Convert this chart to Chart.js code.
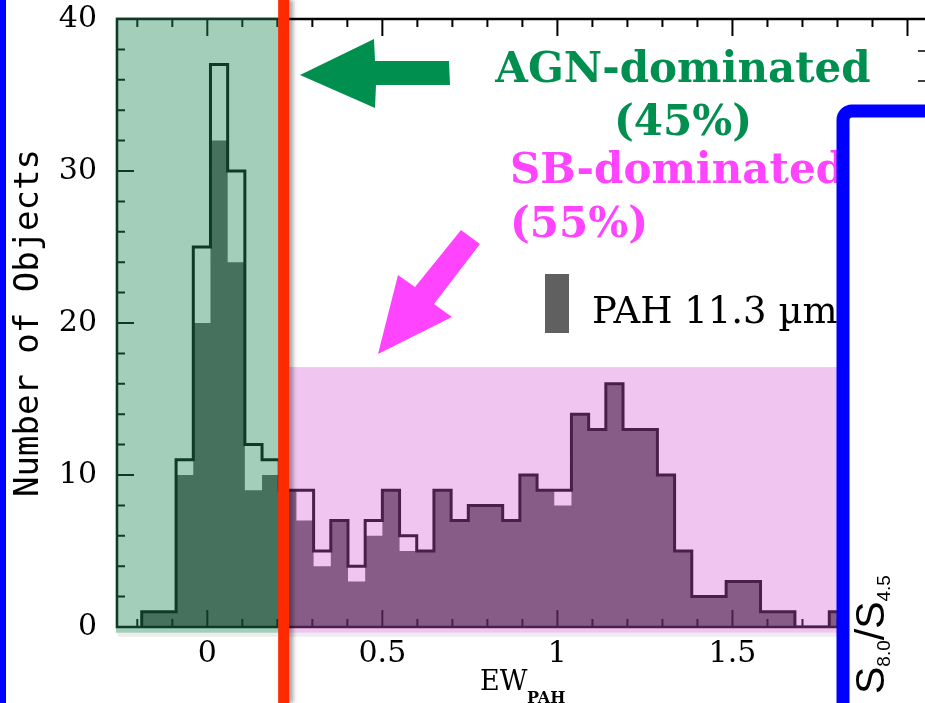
<!DOCTYPE html>
<html>
<head>
<meta charset="utf-8">
<script src="https://cdn.jsdelivr.net/npm/chart.js@4.4.0/dist/chart.umd.min.js"></script>
<style>
html, body { margin: 0; padding: 0; background: #fff; }
#wrap { width: 925px; height: 703px; }
</style>
</head>
<body>
<div id="wrap"><canvas id="histChart" width="925" height="703"></canvas></div>
<script>
"use strict";

// EW(PAH) histogram, equal-width bins starting at binStart
const binStart = -0.1874;
const binWidth = 0.0491;
// whole sample (outline)
const countsAll = [1, 1, 11, 25, 37, 30, 12, 11, 9, 9, 5, 7, 4, 7, 9, 6, 5, 9, 7, 8,
                   8, 7, 10, 9, 9, 14, 13, 16, 13, 13, 10, 5, 2, 2, 3, 3, 1, 1, 0, 0, 1];
// PAH 11.3 um (filled)
const countsPah = [1, 1, 10, 20, 32, 24, 9, 10, 9, 7, 4, 7, 3, 6, 9, 5, 5, 9, 7, 8,
                   8, 7, 10, 9, 8, 14, 13, 16, 13, 13, 10, 5, 2, 2, 3, 3, 1, 1, 0, 0, 1];
const xTicks = [0, 0.5, 1, 1.5, 2];
const yTicks = [0, 10, 20, 30, 40];

// turn bin counts into step points (value holds until the next edge)
function stepPoints(counts) {
    const pts = [{ x: binStart, y: 0 }];
    counts.forEach((c, i) => pts.push({ x: binStart + i * binWidth, y: c }));
    const end = binStart + counts.length * binWidth;
    pts.push({ x: end, y: counts[counts.length - 1] }, { x: end, y: 0 });
    return pts;
}

const serif = '"DejaVu Serif", "Liberation Serif", serif';

// frame with inward ticks on left, bottom and top
const frameTicks = {
    id: 'frameTicks',
    afterDatasetsDraw(chart) {
        const { ctx, chartArea: a, scales: { x, y } } = chart;
        ctx.save();
        ctx.strokeStyle = '#000';
        ctx.lineWidth = 2.5;
        ctx.beginPath();
        ctx.moveTo(a.right + 5, a.top);
        ctx.lineTo(a.left, a.top);
        ctx.lineTo(a.left, a.bottom);
        ctx.lineTo(a.right + 5, a.bottom);
        ctx.stroke();
        ctx.lineWidth = 2;
        ctx.beginPath();
        for (let v = 2; v < 40; v += 2) {
            const py = y.getPixelForValue(v);
            ctx.moveTo(a.left, py);
            ctx.lineTo(a.left + (v % 10 === 0 ? 17 : 8), py);
        }
        for (let i = -2; i <= 20; i++) {
            const px = x.getPixelForValue(i / 10);
            const len = i % 5 === 0 ? 17 : 8;
            ctx.moveTo(px, a.bottom);
            ctx.lineTo(px, a.bottom - len);
            ctx.moveTo(px, a.top);
            ctx.lineTo(px, a.top + len);
        }
        ctx.stroke();
        ctx.restore();
    }
};

// translucent AGN / SB shading over the histogram
const shading = {
    id: 'shading',
    afterDatasetsDraw(chart) {
        const { ctx, scales: { x, y } } = chart;
        const boxes = [
            { x0: -0.261, x1: 0.21, y0: -0.38, y1: 40.12, color: 'rgba(36,140,90,0.42)' },
            { x0: 0.21, x1: 2.2, y0: -0.38, y1: 17.1, color: 'rgba(212,92,212,0.35)' }
        ];
        ctx.save();
        boxes.forEach(b => {
            const l = x.getPixelForValue(b.x0), r = x.getPixelForValue(b.x1);
            const t = y.getPixelForValue(b.y1), btm = y.getPixelForValue(b.y0);
            ctx.fillStyle = 'rgba(0,0,0,0.07)';
            ctx.fillRect(l + 2, btm, r - l, 4);
            ctx.fillStyle = b.color;
            ctx.fillRect(l, t, r - l, btm - t);
        });
        ctx.restore();
    }
};

// cut line, arrows, labels and the neighbouring panel
const decor = {
    id: 'decor',
    afterDraw(chart) {
        const { ctx, scales: { x } } = chart;
        ctx.save();

        // red cut at EW = 0.22
        const cx = x.getPixelForValue(0.218);
        ctx.shadowColor = 'rgba(0,0,0,0.35)';
        ctx.shadowBlur = 4;
        ctx.shadowOffsetX = 4;
        ctx.strokeStyle = '#ff2a00';
        ctx.lineWidth = 11;
        ctx.beginPath();
        ctx.moveTo(cx, 0);
        ctx.lineTo(cx, 703);
        ctx.stroke();
        ctx.shadowColor = 'transparent';

        // green arrow
        ctx.fillStyle = '#008f4f';
        ctx.beginPath();
        [[300, 75], [374, 39], [375, 61], [449, 61], [450, 85], [376, 85], [375, 108]]
            .forEach((p, i) => i ? ctx.lineTo(p[0], p[1]) : ctx.moveTo(p[0], p[1]));
        ctx.closePath();
        ctx.fill();

        // pink arrow
        ctx.fillStyle = '#ff44ff';
        ctx.beginPath();
        [[378, 354], [398, 275], [415, 287], [461, 230], [480, 244], [434, 304], [452, 317]]
            .forEach((p, i) => i ? ctx.lineTo(p[0], p[1]) : ctx.moveTo(p[0], p[1]));
        ctx.closePath();
        ctx.fill();

        ctx.font = 'bold 42px ' + serif;
        ctx.fillStyle = '#008f4f';
        ctx.textAlign = 'center';
        ctx.fillText('AGN-dominated', 683, 82);
        ctx.fillText('(45%)', 683, 135);
        ctx.fillStyle = '#ff44ff';
        ctx.textAlign = 'left';
        ctx.fillText('SB-dominated', 510, 183);
        ctx.fillText('(55%)', 510, 237);

        // legend
        ctx.fillStyle = '#606060';
        ctx.fillRect(545, 274, 24, 59);
        ctx.fillStyle = '#000';
        ctx.font = '37px ' + serif;
        ctx.fillText('PAH 11.3 \u00b5m', 592, 323);

        // x-axis title with subscript
        ctx.font = '27px ' + serif;
        ctx.fillText('EW', 480, 690);
        ctx.font = 'bold 16px ' + serif;
        ctx.fillText('PAH', 527, 703);

        // error bar glyph at the top right
        ctx.strokeStyle = '#000';
        ctx.lineWidth = 1.5;
        ctx.beginPath();
        ctx.moveTo(918, 51); ctx.lineTo(925, 51);
        ctx.moveTo(918, 81); ctx.lineTo(925, 81);
        ctx.stroke();

        // neighbouring panel frame
        ctx.fillStyle = '#fff';
        ctx.fillRect(843, 111, 120, 620);
        ctx.strokeStyle = '#0000ff';
        ctx.lineWidth = 13;
        ctx.beginPath();
        ctx.roundRect(843, 111, 140, 640, 9);
        ctx.stroke();
        ctx.fillStyle = '#0000ff';
        ctx.fillRect(0, 0, 6, 703);

        // S8.0/S4.5 rotated label
        ctx.translate(884, 694);
        ctx.rotate(-Math.PI / 2);
        ctx.fillStyle = '#000';
        const big = '41px "Liberation Sans", Arial, sans-serif';
        const small = '19px "Liberation Sans", Arial, sans-serif';
        let px = 0;
        [['S', big, 0], ['8.0', small, 6], ['/S', big, 0], ['4.5', small, 6]].forEach(([t, f, dy]) => {
            ctx.font = f;
            ctx.fillText(t, px, dy);
            px += ctx.measureText(t).width;
        });
        ctx.restore();
    }
};

const ctx = document.getElementById('histChart');
const histChart = new Chart(ctx, {
    type: 'line',
    data: {
        datasets: [{
                label: 'all',
                data: stepPoints(countsAll),
                stepped: true,
                borderColor: '#000',
                borderWidth: 3,
                pointRadius: 0,
                fill: false,
                order: 0
            },
            {
                label: 'PAH 11.3 \u00b5m',
                data: stepPoints(countsPah),
                stepped: true,
                borderColor: 'transparent',
                borderWidth: 0,
                backgroundColor: '#5f5f5f',
                pointRadius: 0,
                fill: 'origin',
                order: 1
            }
        ]
    },
    options: {
        responsive: false,
        animation: false,
        devicePixelRatio: 1,
        layout: { padding: { top: 19, right: 0, bottom: 0, left: 0 } },
        plugins: { legend: { display: false }, tooltip: { enabled: false } },
        scales: {
            x: {
                type: 'linear',
                min: -0.258,
                max: 2.05,
                afterFit: s => {
                    s.height = 76;
                    s.paddingLeft = 0;
                    s.paddingRight = 0;
                },
                afterBuildTicks: s => { s.ticks = xTicks.map(v => ({ value: v })); },
                grid: { display: false, drawTicks: false },
                border: { display: false },
                ticks: {
                    padding: 9,
                    color: '#000',
                    maxRotation: 0,
                    autoSkip: false,
                    font: { family: 'DejaVu Serif', size: 30 },
                    callback: v => String(v)
                }
            },
            y: {
                min: 0,
                max: 40,
                afterFit: s => {
                    s.width = 117;
                    s.paddingTop = 0;
                    s.paddingBottom = 0;
                },
                afterBuildTicks: s => { s.ticks = yTicks.map(v => ({ value: v })); },
                grid: { display: false, drawTicks: false },
                border: { display: false },
                ticks: {
                    padding: 20,
                    color: '#000',
                    font: { family: 'DejaVu Serif', size: 30 }
                },
                title: {
                    display: true,
                    text: 'Number of Objects',
                    color: '#000',
                    font: { family: 'DejaVu Sans Mono', size: 34 },
                    padding: { top: 9, bottom: 0 }
                }
            }
        }
    },
    plugins: [frameTicks, shading, decor]
});
</script>
</body>
</html>
